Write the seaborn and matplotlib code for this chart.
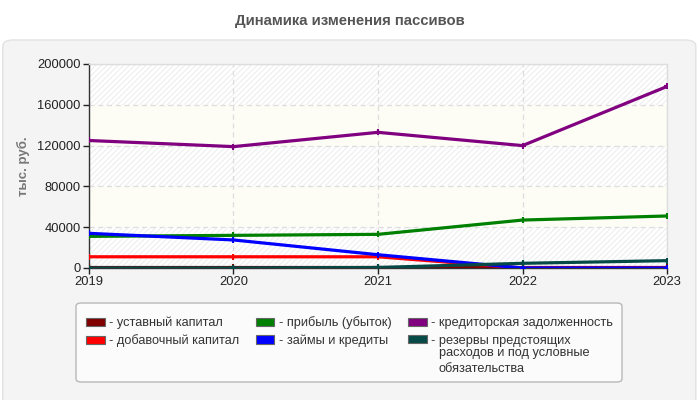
import pandas as pd
import numpy as np
import matplotlib
matplotlib.use('Agg')
import matplotlib.pyplot as plt
from matplotlib.patches import Patch, FancyBboxPatch
import seaborn as sns

#------------------------------------------------
years=[2019, 2020, 2021, 2022, 2023]
names=['уставный капитал', 'добавочный капитал', 'прибыль (убыток)',
       'займы и кредиты', 'кредиторская задолженность',
       'резервы предстоящих\nрасходов и под условные\nобязательства']
colors=['#800000', '#ff0000', '#008000', '#0000ff', '#800080', '#054a46']

v_ustav=[500, 500, 500, 500, 500]
v_dobav=[11000, 11000, 11000, 0, 0]
v_prib=[31000, 32000, 33000, 47000, 51000]
v_zaim=[34000, 27500, 13000, 0, 0]
v_kred=[125000, 119000, 133000, 120000, 178000]
v_rezerv=[0, 0, 500, 4600, 7200]

title='Динамика изменения пассивов'
ylabel='тыс. руб.'
yticks=[0, 40000, 80000, 120000, 160000, 200000]

#########################################################
series=[v_ustav, v_dobav, v_prib, v_zaim, v_kred, v_rezerv]
rows=[]
for name, vals in zip(names, series):
    for y, v in zip(years, vals):
        rows.append({'year': y, 'value': v, 'name': name})
df=pd.DataFrame(rows)

sns.set_style('white')
plt.rcParams['font.family']=['Liberation Sans', 'DejaVu Sans']
plt.rcParams['hatch.linewidth']=0.8

W, H=700, 400
fig=plt.figure(figsize=(7, 4), dpi=100)
fig.patch.set_facecolor('white')

#grey panel
panel=FancyBboxPatch((0.004, -0.02), 0.99, 0.92, boxstyle='round,pad=0,rounding_size=0.015',
                     transform=fig.transFigure, facecolor='#f4f4f4', edgecolor='#e2e2e2',
                     lw=1, zorder=-5)
fig.patches.append(panel)

fig.text(0.5, 0.948, title, ha='center', va='center', fontsize=10.7,
         weight='bold', color='#555555')

ax=fig.add_axes([0.127, 0.33, 0.826, 0.51])
ax.set_zorder(2)
ax.set_facecolor('#fdfdf6')

#bands
for i, (lo, hi) in enumerate(zip(yticks[:-1], yticks[1:])):
    if i % 2 == 0:
        ax.axhspan(lo, hi, facecolor='white', edgecolor='#eeeeee', hatch='//////',
                   lw=0, zorder=0)

sns.lineplot(data=df, x='year', y='value', hue='name', palette=colors,
             marker='+', markersize=5, markeredgewidth=1.5, linewidth=2.3,
             legend=False, ax=ax, zorder=3)
for l in ax.lines:
    l.set_markeredgecolor(l.get_color())

ax.set_xlim(2019, 2023)
ax.set_ylim(0, 200000)
ax.set_xticks(years)
ax.set_yticks(yticks)
ax.set_xticklabels([str(y) for y in years])
ax.set_yticklabels([str(t) for t in yticks])
ax.set_xlabel('')
ax.set_ylabel(ylabel, fontsize=9.5, weight='bold', color='#777777', labelpad=5)
ax.grid(True, color='#dddddd', ls=(0, (4, 3)), lw=0.9)
ax.tick_params(axis='both', labelsize=9.3, colors='#222222', length=4, width=1,
               direction='out', bottom=True, left=True, pad=2)
for s in ['left', 'bottom']:
    ax.spines[s].set_color('#333333')
    ax.spines[s].set_linewidth(1)
for s in ['top', 'right']:
    ax.spines[s].set_color('#dddddd')
    ax.spines[s].set_linewidth(1)

#legend box
box=FancyBboxPatch((76/W, 1-382/H), 546/W, 79/H, boxstyle='round,pad=0,rounding_size=0.008',
                   transform=fig.transFigure, facecolor='#fbfbfb', edgecolor='#b8b8b8',
                   lw=1, zorder=1)
fig.patches.append(box)

#legend (first line of each label, extra lines added below)
fs=9.2
handles=[Patch(facecolor=c, edgecolor='#666666', lw=0.8) for c in colors]
first=['- '+n.split('\n')[0] for n in names]
leg=fig.legend(handles, first, loc='upper left', bbox_to_anchor=(86/W, 1-316.5/H),
               ncol=3, fontsize=fs, frameon=False,
               handlelength=1.45, handleheight=0.62, handletextpad=0.35,
               columnspacing=1.3, labelspacing=0.4, borderpad=0, borderaxespad=0)
leg.set_zorder(3)
for t in leg.get_texts():
    t.set_color('#333333')

fig.canvas.draw()
r=fig.canvas.get_renderer()
last=leg.get_texts()[-1]
bb=last.get_window_extent(r).transformed(fig.transFigure.inverted())
tmp=fig.text(0, 0, '- ', fontsize=fs)
dash_w=tmp.get_window_extent(r).transformed(fig.transFigure.inverted()).width
tmp.remove()
extra=names[-1].split('\n')[1:]
fig.text(bb.x0+dash_w, bb.y0-0.002, '\n'.join(extra), fontsize=fs, color='#333333',
         va='top', ha='left', linespacing=1.45, zorder=4)

plt.savefig('out.png', dpi=100)
plt.close()
